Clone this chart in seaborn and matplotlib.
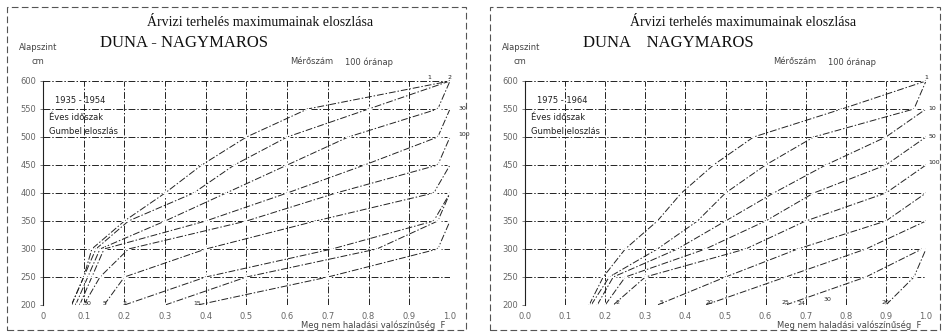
import numpy as np
import pandas as pd
import matplotlib
matplotlib.use("Agg")
import matplotlib.pyplot as plt
from matplotlib.patches import Rectangle
import seaborn as sns

# ---------------- data ----------------
levels = [200, 250, 300, 350, 400, 450, 500, 550, 600]
x_ticks = [0.0, 0.1, 0.2, 0.3, 0.4, 0.5, 0.6, 0.7, 0.8, 0.9, 1.0]
x_ticklabels_left = ["0", "0.1", "0.2", "0.3", "0.4", "0.5", "0.6", "0.7", "0.8", "0.9", "1.0"]
x_ticklabels_right = ["0.0", "0.1", "0.2", "0.3", "0.4", "0.5", "0.6", "0.7", "0.8", "0.9", "1.0"]
y_ticks = [200, 250, 300, 350, 400, 450, 500, 550, 600]

# Left panel (1935 - 1954): non-exceedance probability F at each level
left_c1 = [0.07, 0.10, 0.12, 0.20, 0.30, 0.39, 0.50, 0.65, 1.00]
left_c2 = [0.07, 0.10, 0.13, 0.21, 0.37, 0.47, 0.60, 0.80, 1.00]
left_c3 = [0.08, 0.11, 0.14, 0.30, 0.45, 0.60, 0.75, 0.97, 1.00]
left_c4 = [0.09, 0.12, 0.15, 0.40, 0.60, 0.79, 0.97, 1.00]
left_c5 = [0.10, 0.14, 0.21, 0.50, 0.72, 0.97, 1.00]
left_c6 = [0.15, 0.20, 0.40, 0.67, 0.96, 1.00]
left_c7 = [0.20, 0.40, 0.71, 0.96, 1.00]
left_c8 = [0.30, 0.50, 0.82, 0.97, 1.00]
left_c9 = [0.38, 0.70, 0.97, 1.00]
left_curves = [left_c1, left_c2, left_c3, left_c4, left_c5, left_c6, left_c7, left_c8, left_c9]

# Right panel (1975 - 1964)
right_c1 = [0.16, 0.195, 0.25, 0.33, 0.39, 0.47, 0.57, 0.79, 1.00]
right_c2 = [0.165, 0.21, 0.33, 0.43, 0.50, 0.60, 0.72, 0.97, 1.00]
right_c3 = [0.18, 0.22, 0.38, 0.50, 0.62, 0.75, 0.90, 1.00]
right_c4 = [0.20, 0.25, 0.45, 0.60, 0.72, 0.90, 1.00]
right_c5 = [0.22, 0.30, 0.55, 0.70, 0.90, 1.00]
right_c6 = [0.33, 0.50, 0.68, 0.90, 1.00]
right_c7 = [0.45, 0.65, 0.85, 1.00]
right_c8 = [0.65, 0.85, 0.99]
right_c9 = [0.90, 0.97, 1.00]
right_curves = [right_c1, right_c2, right_c3, right_c4, right_c5, right_c6, right_c7, right_c8, right_c9]

# curve labels (text, F, level)
left_labels_text = ["1", "2", "30", "100", "30", "5", "2", "15"]
left_labels_F = [0.95, 1.0, 1.02, 1.02, 0.11, 0.15, 0.20, 0.38]
left_labels_lev = [607, 607, 550, 505, 203, 203, 203, 203]
right_labels_text = ["1", "10", "50", "100", "2", "5", "20", "25", "24", "30", "20"]
right_labels_F = [1.0, 1.006, 1.006, 1.006, 0.23, 0.34, 0.46, 0.65, 0.69, 0.755, 0.90]
right_labels_lev = [607, 550, 500, 455, 205, 205, 205, 205, 203, 209, 205]

panels = [
    dict(curves=left_curves, period="1935 - 1954", title2="DUNA - NAGYMAROS",
         xtl=x_ticklabels_left, lt=left_labels_text, lf=left_labels_F, ll=left_labels_lev),
    dict(curves=right_curves, period="1975 - 1964", title2="DUNA    NAGYMAROS",
         xtl=x_ticklabels_right, lt=right_labels_text, lf=right_labels_F, ll=right_labels_lev),
]

# ---------------- figure ----------------
sns.set_theme(style="white")
plt.rcParams["font.family"] = ["DejaVu Sans"]
W, H = 943, 335
fig = plt.figure(figsize=(W / 100, H / 100), dpi=100)
fig.patch.set_facecolor("white")

def fx(x):
    return x / W

def fy(y):
    return 1 - y / H

dashdot = (0, (7, 2, 1.5, 2))
ax_px = [(43, 450), (525, 926)]
border_px = [(7, 466), (490, 940)]
ink = "#222222"

for i, p in enumerate(panels):
    x0, x1 = ax_px[i]
    ax = fig.add_axes([fx(x0), fy(305), (x1 - x0) / W, (305 - 81) / H])
    ax.set_facecolor("white")
    for c in p["curves"]:
        df = pd.DataFrame({"F": c, "level": levels[:len(c)]})
        sns.lineplot(data=df, x="F", y="level", sort=False, estimator=None, ax=ax,
                     color=ink, lw=0.7, linestyle=dashdot, marker="+",
                     markersize=4, markeredgewidth=0.7, clip_on=False)
    ax.set_xlim(0, 1)
    ax.set_ylim(200, 600)
    ax.set_xticks(x_ticks)
    ax.set_xticklabels(p["xtl"], fontsize=6, color="#666666")
    ax.set_yticks(y_ticks)
    ax.set_yticklabels([str(v) for v in y_ticks], fontsize=6, color="#666666")
    ax.grid(True, color=ink, lw=0.7, linestyle=dashdot)
    ax.set_axisbelow(True)
    for s in ["top", "right", "bottom"]:
        ax.spines[s].set_visible(False)
    ax.spines["left"].set_color(ink)
    ax.spines["left"].set_linewidth(0.8)
    ax.tick_params(axis="both", length=2, width=0.6, pad=3, colors="#666666",
                   left=True, bottom=False)
    ax.set_xlabel("")
    ax.set_ylabel("")
    for t, f, l in zip(p["lt"], p["lf"], p["ll"]):
        ha = "left" if f > 1.003 else "center"
        ax.text(f, l, t, fontsize=4.5, color=ink, ha=ha, va="center", clip_on=False)
    ax.text(0.03, 565, p["period"], fontsize=6, color=ink, ha="left", va="center")
    ax.text(0.015, 535, "Éves időszak", fontsize=6, color=ink, ha="left", va="center")
    ax.text(0.015, 510, "Gumbel eloszlás", fontsize=6, color=ink, ha="left", va="center")

    # panel text outside axes
    bx0, bx1 = border_px[i]
    fig.text(fx(bx0 + 140), fy(22), "Árvizi terhelés maximumainak eloszlása",
             fontsize=10, family="Liberation Serif", color="#111111", ha="left", va="center")
    fig.text(fx(bx0 + 93), fy(43), p["title2"],
             fontsize=12, family="Liberation Serif", color="#111111", ha="left", va="center")
    fig.text(fx(bx0 + 12), fy(47), "Alapszint", fontsize=6, color="#444444", ha="left", va="center")
    fig.text(fx(bx0 + 24), fy(61), "cm", fontsize=6, color="#444444", ha="left", va="center")
    fig.text(fx(bx0 + 283), fy(62), "Mérőszám", fontsize=6, color="#444444", ha="left", va="center")
    fig.text(fx(bx0 + 338), fy(62), "100 óránap", fontsize=6, color="#444444", ha="left", va="center")
    fig.text(fx(x1 - 5), fy(325), "Meg nem haladási valószínűség  F", fontsize=6,
             color="#444444", ha="right", va="center")
    fig.add_artist(Rectangle((fx(bx0), fy(330)), (bx1 - bx0) / W, (330 - 7) / H,
                             transform=fig.transFigure, fill=False, edgecolor="#555555",
                             lw=0.8, linestyle=(0, (6, 3))))

fig.savefig("out.png", dpi=100, facecolor="white")
